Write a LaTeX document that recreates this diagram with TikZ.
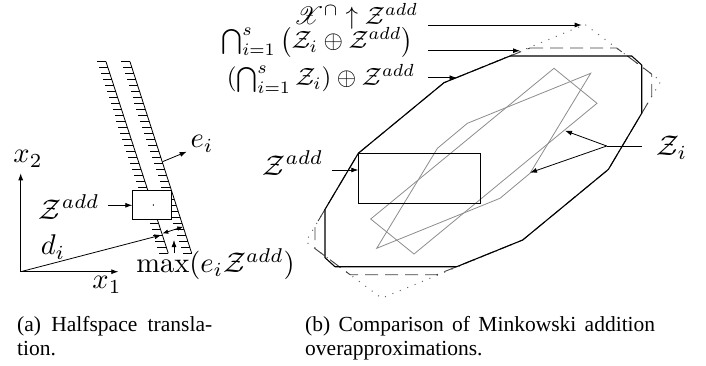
\documentclass[tikz,border=0pt]{standalone}
\usepackage{amsmath,amssymb}
\usepackage{mathrsfs}
\usepackage{fontspec}
\newfontfamily\capfont{Liberation Serif}
\usetikzlibrary{arrows.meta,calc}
\tikzset{
  lab/.style={font=\normalsize, inner sep=0pt, scale=2.85, transform shape},
  toplab/.style={font=\normalsize, inner sep=0pt, scale=2.5, transform shape, anchor=base east},
  captext/.style={font=\capfont\fontsize{21.5}{26}\selectfont, inner sep=0pt, anchor=base west},
  arr/.style={-{Latex[length=7pt,width=5pt]}, line width=0.8pt},
  hline/.style={line width=0.8pt},
  zpoly/.style={draw=black!45, line width=0.8pt},
  solidpoly/.style={draw=black, line width=1.1pt, line join=bevel},
  dashpoly/.style={draw=black!75, line width=0.9pt, dash pattern=on 13pt off 7pt},
  dotpoly/.style={draw=black!60, line width=1pt, dash pattern=on 1pt off 7pt},
}
\begin{document}
\begin{tikzpicture}[x=1pt,y=-1pt]
\useasboundingbox (0,0) rectangle (706,366);
% ---------------- left panel ----------------
\coordinate (O) at (20.7,271.7);
\coordinate (X1) at (118.3,271.7);
\coordinate (X2) at (20.7,173.3);
\coordinate (L1a) at (106,61.7);
\coordinate (L1b) at (168.3,253.3);
\coordinate (L2a) at (130,61.7);
\coordinate (L2b) at (191.7,253.3);
\draw[hline] (L1a) -- (L1b);
\draw[hline] (L2a) -- (L2b);
\foreach \k in {0,...,32}{
  \pgfmathsetmacro\t{\k/32}
  \draw[line width=0.7pt] ($(L1a)!\t!(L1b)$) -- ++(-9,0);
  \draw[line width=0.7pt] ($(L2a)!\t!(L2b)$) -- ++(-9,0);
}
\node[draw, fill=white, line width=0.8pt, minimum width=39pt, minimum height=28.6pt, inner sep=0pt] (zbox) at (152.2,205) {};
\fill (153.3,205) circle (0.8);
\draw[arr] (O) -- (X1);
\draw[arr] (O) -- (X2);
\coordinate (Di) at (161.5,235);
\draw[arr] (O) -- (Di);
\coordinate (Ea) at (162.5,161.7);
\coordinate (Eb) at (186.7,151.7);
\draw[arr] (Ea) -- (Eb);
\coordinate (Ma) at (162.3,233.5);
\coordinate (Mb) at (183.3,226.7);
\draw[{Latex[length=6pt,width=4.5pt]}-{Latex[length=6pt,width=4.5pt]}, line width=0.8pt] (Ma) -- (Mb);
\coordinate (Ua) at (174,253.3);
\coordinate (Ub) at (174,240);
\draw[arr] (Ua) -- (Ub);
\coordinate (Za) at (108.3,205.3);
\draw[arr] (Za) -- (zbox.west |- Za);
\node[lab] (lx2) at (28,159) {$x_2$};
\node[lab] (lx1) at (107,285) {$x_1$};
\node[lab] (ldi) at (53,247) {$d_i$};
\node[lab, anchor=east] (lzl) at (100,207) {$\mathcal{Z}^{add}$};
\node[lab] (lmax) at (215.5,264) {$\max(e_i\mathcal{Z}^{add})$};
\node[lab] (lei) at (202,144) {$e_i$};
% ---------------- right panel ----------------
\coordinate (p1) at (358.3,153.3);
\coordinate (p2) at (444,82.7);
\coordinate (p3) at (510,56);
\coordinate (p4) at (631.7,56);
\coordinate (p5) at (641.7,65);
\coordinate (p6) at (641.7,113.3);
\coordinate (p7) at (608.4,169.4);
\coordinate (p8) at (522.7,240);
\coordinate (p9) at (456.7,266.7);
\coordinate (p10) at (335,266.7);
\coordinate (p11) at (325,257.7);
\coordinate (p12) at (325,209.4);
\coordinate (d1) at (585,24.5);
\coordinate (d2) at (660.9,81);
\coordinate (d3) at (381.7,298.2);
\coordinate (d4) at (305.8,241.7);
\coordinate (q1) at (530,48);
\coordinate (q2) at (616.6,48);
\coordinate (q3) at (651.7,74.1);
\coordinate (q4) at (651.7,96.5);
\coordinate (q5) at (436.7,274.7);
\coordinate (q6) at (350.1,274.7);
\coordinate (q7) at (315,248.6);
\coordinate (q8) at (315,226.2);
% Z_i
\draw[zpoly] (554,68.3) -- (597,103.3) -- (414,254) -- (370.7,219) -- cycle;
\draw[zpoly] (590.7,73.3) -- (530,173.3) -- (500,198.3) -- (376.7,248.3) -- (437.4,148.3) -- (467.4,123.3) -- cycle;
% Z add
\draw[line width=1pt] (358.3,153.3) rectangle (480.7,203.3);
\coordinate (zr) at (358.3,170);
% overapproximations
\draw[dotpoly] (p1) -- (p2) -- (d1) -- (d2) -- (p7) -- (p8) -- (d3) -- (d4) -- cycle;
\draw[dashpoly] (q1) -- (q2) -- (q3) -- (q4) -- (p7) -- (p8) -- (q5) -- (q6) -- (q7) -- (q8) -- (p1) -- (p2) -- cycle;
\draw[solidpoly] (p1) -- (p2) -- (p3) -- (p4) -- (p5) -- (p6) -- (p7) -- (p8) -- (p9) -- (p10) -- (p11) -- (p12) -- cycle;
% labels
\node[toplab] (l1) at (418.5,24.5) {$\mathscr{X}^{\cap}\uparrow\mathcal{Z}^{add}$};
\node[toplab] (l2) at (413.5,48.5) {$\bigcap_{i=1}^{s}\big(\mathcal{Z}_i\oplus\mathcal{Z}^{add}\big)$};
\node[toplab] (l3) at (415.5,86) {$\left(\bigcap_{i=1}^{s}\mathcal{Z}_i\right)\oplus\mathcal{Z}^{add}$};
\coordinate (a1s) at (428.3,25);
\coordinate (a1e) at (581.7,25);
\coordinate (a2s) at (428.3,50.7);
\coordinate (a2e) at (520,50.7);
\coordinate (a3s) at (428.3,77.7);
\coordinate (a3e) at (456.5,77.7);
\draw[arr] (a1s) -- (a1e);
\draw[arr] (a2s) -- (a2e);
\draw[arr] (a3s) -- (a3e);
\node[lab] (lzr) at (293,163) {$\mathcal{Z}^{add}$};
\coordinate (zrs) at (331.7,170);
\draw[arr] (zrs) -- (zr);
\node[lab] (lzi) at (672,148) {$\mathcal{Z}_i$};
\coordinate (J) at (606.7,146);
\coordinate (Js) at (641.7,146);
\coordinate (t1) at (565,130.7);
\coordinate (t2) at (530,172.7);
\draw[line width=0.8pt] (Js) -- (J);
\draw[arr] (J) -- (t1);
\draw[arr] (J) -- (t2);
% captions
\node[captext] (ca1) at (17,331.7) {\makebox[195pt][s]{(a) Halfspace transla-}};
\node[captext] (ca2) at (17,355) {tion.};
\node[captext] (cb1) at (305,331.7) {\makebox[350pt][s]{(b) Comparison of Minkowski addition}};
\node[captext] (cb2) at (305,355) {overapproximations.};
\end{tikzpicture}
\end{document}
